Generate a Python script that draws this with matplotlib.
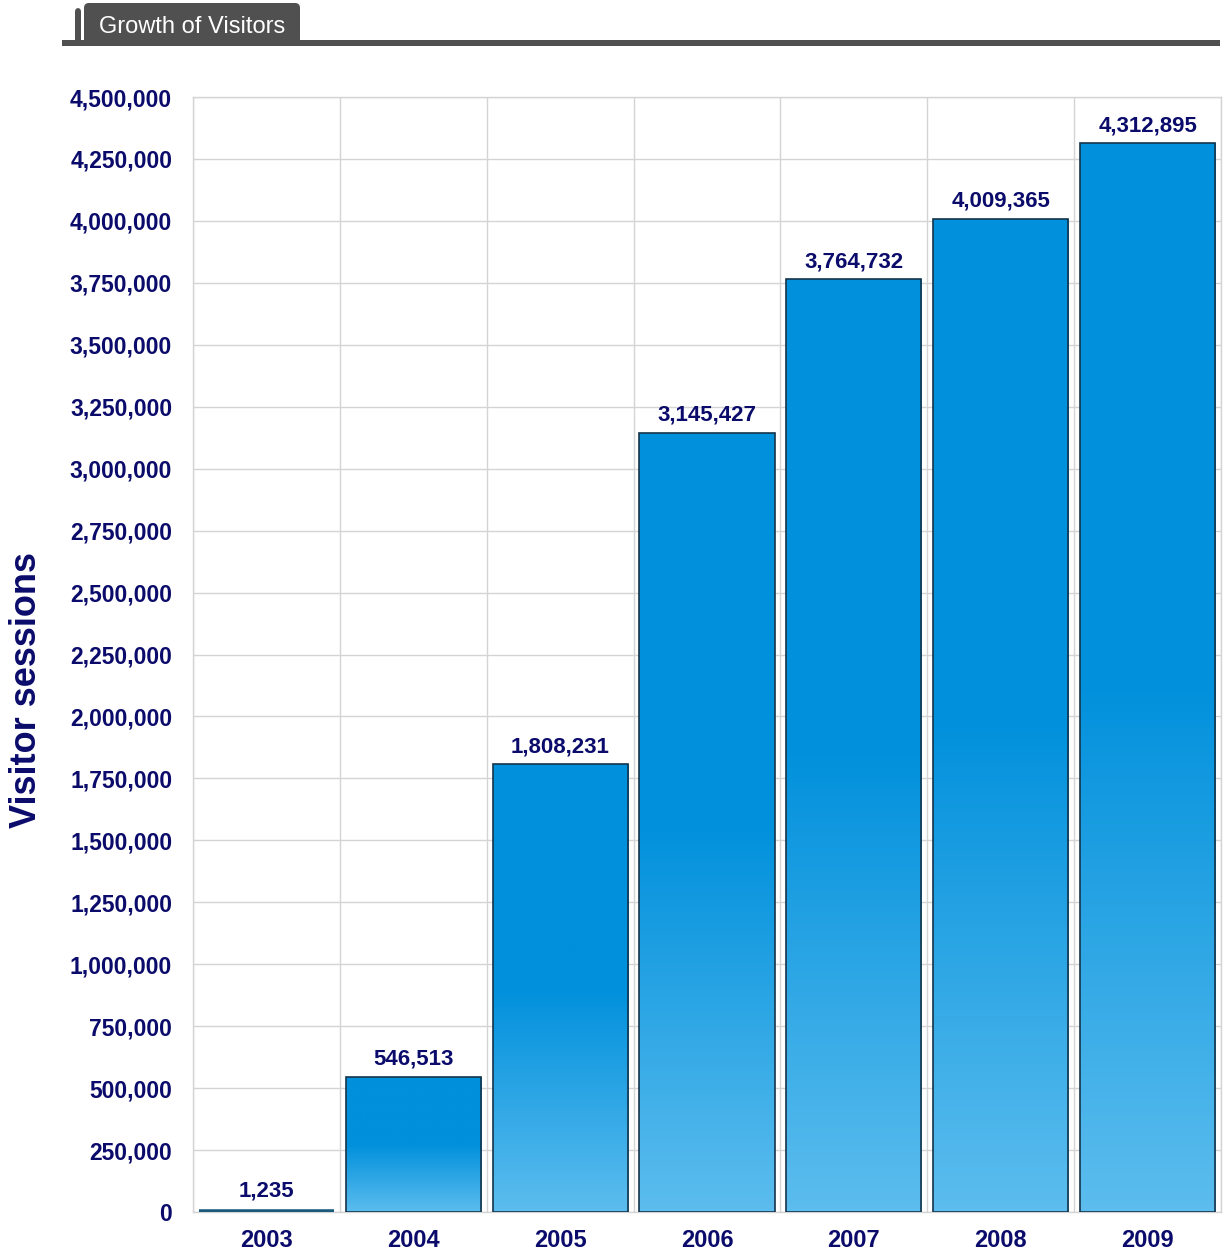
"""Growth of visitors: yearly visitor sessions as gradient bars."""

import matplotlib
matplotlib.use("Agg")
import matplotlib.pyplot as plt
import numpy as np
from matplotlib.colors import LinearSegmentedColormap
from matplotlib.patches import FancyBboxPatch, Rectangle
from matplotlib.ticker import FuncFormatter, MultipleLocator

years = ["2003", "2004", "2005", "2006", "2007", "2008", "2009"]
sessions = [1235, 546513, 1808231, 3145427, 3764732, 4009365, 4312895]

NAVY = "#0b0b6b"
GRID = "#d4d4d4"
TAB = "#505050"

plt.rcParams["font.family"] = ["Liberation Sans", "DejaVu Sans"]

fig = plt.figure(figsize=(12.24, 12.5), dpi=100)
ax = fig.add_axes([193 / 1224, 1 - 1212 / 1250, 1028 / 1224, 1115 / 1250])

# light at the bottom of each bar, flat dark blue over the top half
cmap = LinearSegmentedColormap.from_list(
    "bar", [(0.0, "#5cbdee"), (0.5, "#0090dc"), (1.0, "#0090dc")]
)
grad = np.linspace(0, 1, 256).reshape(-1, 1)

width = 0.92
for i, v in enumerate(sessions):
    x0 = i - width / 2
    tiny = v < 20000
    rect = Rectangle((x0, 0), width, v, facecolor="none",
                     edgecolor="#1c5a7c" if tiny else "#15344a",
                     linewidth=4 if tiny else 1.2, zorder=4)
    ax.add_patch(rect)
    im = ax.imshow(grad, cmap=cmap, origin="lower", aspect="auto",
                   extent=[x0, x0 + width, 0, v], zorder=3)
    im.set_clip_path(rect)
    ax.annotate(f"{v:,}", (i, v), xytext=(0, 5 if not tiny else 7),
                textcoords="offset points", ha="center", va="bottom",
                fontsize=16, fontweight="bold", color=NAVY, zorder=5)

ax.set_xlim(-0.5, len(years) - 0.5)
ax.set_ylim(0, 4500000)
ax.yaxis.set_major_locator(MultipleLocator(250000))
ax.yaxis.set_major_formatter(FuncFormatter(lambda v, _: f"{int(v):,}"))
ax.set_xticks(range(len(years)))
ax.set_xticklabels(years)
ax.set_xticks(np.arange(-0.5, len(years)), minor=True)

ax.grid(axis="y", which="major", color=GRID, linewidth=1)
ax.grid(axis="x", which="minor", color=GRID, linewidth=1)
ax.set_axisbelow(True)
for side in ["top", "right", "left", "bottom"]:
    ax.spines[side].set_color(GRID)
    ax.spines[side].set_linewidth(1)

ax.tick_params(axis="both", which="both", length=0)
ax.tick_params(axis="y", pad=15, labelsize=16.5, labelcolor=NAVY)
ax.tick_params(axis="x", pad=12, labelsize=17, labelcolor=NAVY)
for lbl in ax.get_xticklabels() + ax.get_yticklabels():
    lbl.set_fontweight("bold")

fig.text(27 / 1224, 1 - 690 / 1250, "Visitor sessions", rotation=90,
         ha="center", va="center", fontsize=26, fontweight="bold", color=NAVY)

# header tab and rule
fig.patches.append(Rectangle((62 / 1224, 1 - 46 / 1250), 1158 / 1224, 6 / 1250,
                             transform=fig.transFigure, facecolor=TAB,
                             edgecolor="none"))
fig.patches.append(FancyBboxPatch((75 / 1224, 1 - 44 / 1250), 6 / 1224, 36 / 1250,
                                  boxstyle="round,pad=0,rounding_size=0.003",
                                  transform=fig.transFigure, facecolor=TAB,
                                  edgecolor="none"))
fig.patches.append(FancyBboxPatch((84 / 1224, 1 - 44 / 1250), 216 / 1224, 41 / 1250,
                                  boxstyle="round,pad=0,rounding_size=0.004",
                                  transform=fig.transFigure, facecolor=TAB,
                                  edgecolor="none"))
fig.text(99 / 1224, 1 - 27 / 1250, "Growth of Visitors", ha="left", va="center",
         fontsize=17, color="white")

fig.savefig("out.png", dpi=100)
